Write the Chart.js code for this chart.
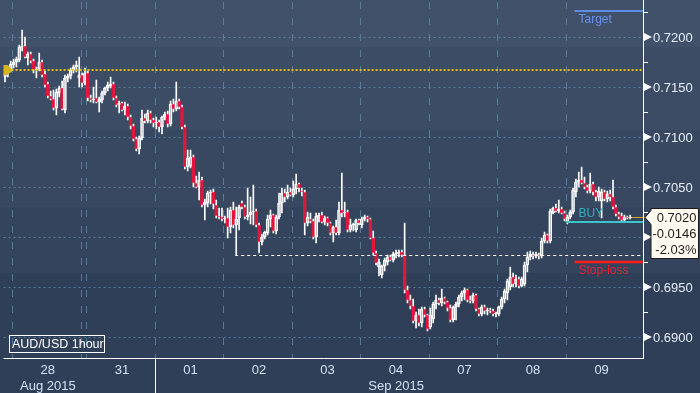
<!DOCTYPE html>
<html>
<head>
<meta charset="utf-8">
<script src="https://cdn.jsdelivr.net/npm/chart.js@4.4.0/dist/chart.umd.min.js"></script>
<style>
  html, body { margin: 0; padding: 0; background: #2e3c55; }
  #wrap { width: 700px; height: 393px; }
</style>
</head>
<body>
<div id="wrap"><canvas id="fxChart" width="700" height="393"></canvas></div>
<script>
// hourly candles, each [open, high, low, close]
const aug27 = [
  [0.7160,0.7168,0.7155,0.7164],[0.7164,0.7170,0.7160,0.7167],[0.7167,0.7176,0.7165,0.7173]
];
const aug28 = [
  [0.7172,0.7178,0.7169,0.7175],[0.7175,0.7180,0.7170,0.7178],[0.7177,0.7192,0.7175,0.7190],
  [0.7190,0.7207,0.7186,0.7191],[0.7191,0.7200,0.7179,0.7180],[0.7179,0.7185,0.7172,0.7183],
  [0.7183,0.7185,0.7174,0.7176],[0.7176,0.7178,0.7164,0.7167],[0.7167,0.7170,0.7159,0.7168],
  [0.7168,0.7184,0.7166,0.7175],[0.7175,0.7177,0.7160,0.7162],[0.7163,0.7166,0.7150,0.7152],
  [0.7153,0.7155,0.7139,0.7141],[0.7141,0.7146,0.7137,0.7138],[0.7138,0.7147,0.7127,0.7129],
  [0.7129,0.7148,0.7122,0.7145],[0.7144,0.7151,0.7140,0.7149],[0.7149,0.7156,0.7127,0.7128],
  [0.7127,0.7162,0.7124,0.7159],[0.7159,0.7163,0.7155,0.7161],[0.7161,0.7169,0.7158,0.7167],
  [0.7167,0.7172,0.7164,0.7170],[0.7170,0.7176,0.7165,0.7172],[0.7159,0.7180,0.7150,0.7162]
];
const aug30 = [
  [0.7162,0.7164,0.7150,0.7154],[0.7154,0.7169,0.7152,0.7164]
];
const aug31 = [
  [0.7164,0.7166,0.7136,0.7139],[0.7139,0.7142,0.7135,0.7137],[0.7137,0.7150,0.7134,0.7138],
  [0.7139,0.7157,0.7134,0.7135],[0.7135,0.7140,0.7125,0.7138],[0.7137,0.7146,0.7134,0.7144],
  [0.7144,0.7150,0.7142,0.7149],[0.7149,0.7155,0.7146,0.7152],[0.7151,0.7160,0.7149,0.7153],
  [0.7153,0.7155,0.7137,0.7139],[0.7139,0.7141,0.7130,0.7132],[0.7132,0.7136,0.7124,0.7134],
  [0.7134,0.7135,0.7126,0.7127],[0.7127,0.7135,0.7122,0.7131],[0.7131,0.7133,0.7117,0.7120],
  [0.7120,0.7122,0.7108,0.7111],[0.7111,0.7113,0.7096,0.7098],[0.7098,0.7100,0.7086,0.7088],
  [0.7088,0.7101,0.7083,0.7099],[0.7099,0.7127,0.7097,0.7119],[0.7119,0.7123,0.7114,0.7116],
  [0.7116,0.7127,0.7114,0.7124],[0.7124,0.7126,0.7114,0.7117],[0.7117,0.7119,0.7110,0.7114]
];
const sep01 = [
  [0.7114,0.7120,0.7108,0.7115],[0.7115,0.7117,0.7105,0.7110],[0.7110,0.7121,0.7103,0.7120],
  [0.7120,0.7125,0.7117,0.7123],[0.7123,0.7126,0.7110,0.7113],[0.7113,0.7136,0.7111,0.7133],
  [0.7133,0.7138,0.7125,0.7128],[0.7128,0.7155,0.7126,0.7136],[0.7136,0.7138,0.7128,0.7130],
  [0.7130,0.7132,0.7108,0.7110],[0.7110,0.7112,0.7068,0.7070],[0.7070,0.7087,0.7066,0.7079],
  [0.7071,0.7087,0.7069,0.7080],[0.7080,0.7082,0.7050,0.7054],[0.7054,0.7061,0.7049,0.7050],
  [0.7050,0.7065,0.7037,0.7057],[0.7057,0.7060,0.7030,0.7032],[0.7032,0.7038,0.7017,0.7035],
  [0.7034,0.7046,0.7030,0.7044],[0.7044,0.7047,0.7033,0.7045],[0.7045,0.7048,0.7028,0.7033],
  [0.7032,0.7037,0.7019,0.7021],[0.7021,0.7029,0.7018,0.7020],[0.7020,0.7029,0.7016,0.7018]
];
const sep02 = [
  [0.7018,0.7021,0.7014,0.7019],[0.7019,0.7029,0.6999,0.7010],[0.7010,0.7030,0.7004,0.7027],
  [0.7027,0.7035,0.7009,0.7012],[0.7012,0.7030,0.6982,0.7018],[0.7019,0.7032,0.7007,0.7030],
  [0.7034,0.7036,0.7028,0.7030],[0.7030,0.7032,0.7018,0.7020],[0.7020,0.7049,0.7017,0.7022],
  [0.7022,0.7040,0.7013,0.7025],[0.7025,0.7052,0.7012,0.7026],[0.7026,0.7028,0.7010,0.7012],
  [0.7012,0.7014,0.6984,0.6995],[0.6995,0.7003,0.6992,0.7000],[0.7000,0.7006,0.6998,0.7005],
  [0.7004,0.7022,0.7002,0.7018],[0.7018,0.7027,0.7010,0.7022],[0.7022,0.7023,0.7004,0.7006],
  [0.7006,0.7022,0.7003,0.7020],[0.7020,0.7044,0.7018,0.7034],[0.7034,0.7049,0.7024,0.7044],
  [0.7044,0.7048,0.7035,0.7040],[0.7040,0.7052,0.7038,0.7045],[0.7045,0.7049,0.7041,0.7042]
];
const sep03 = [
  [0.7042,0.7056,0.7040,0.7048],[0.7048,0.7063,0.7043,0.7053],[0.7053,0.7054,0.7045,0.7049],
  [0.7046,0.7049,0.7041,0.7045],[0.7045,0.7047,0.7002,0.7014],[0.7014,0.7025,0.7011,0.7020],
  [0.7018,0.7024,0.7014,0.7016],[0.7016,0.7018,0.6998,0.7000],[0.7000,0.7024,0.6994,0.7021],
  [0.7021,0.7024,0.7015,0.7022],[0.7022,0.7025,0.7014,0.7015],[0.7015,0.7021,0.7012,0.7019],
  [0.7019,0.7020,0.7011,0.7014],[0.7014,0.7015,0.7002,0.7004],[0.7004,0.7011,0.6995,0.7010],
  [0.7010,0.7017,0.7002,0.7004],[0.7004,0.7035,0.7002,0.7027],[0.7027,0.7064,0.7020,0.7024],
  [0.7024,0.7035,0.7020,0.7025],[0.7025,0.7027,0.7005,0.7007],[0.7007,0.7018,0.7005,0.7012],
  [0.7012,0.7014,0.7006,0.7012],[0.7007,0.7018,0.7005,0.7017],[0.7017,0.7018,0.7012,0.7014]
];
const sep04 = [
  [0.7012,0.7020,0.7009,0.7018],[0.7018,0.7022,0.7016,0.7020],[0.7020,0.7021,0.7015,0.7018],
  [0.7018,0.7019,0.6998,0.6999],[0.6999,0.7006,0.6982,0.6984],[0.6984,0.6986,0.6972,0.6974],
  [0.6970,0.6978,0.6961,0.6975],[0.6962,0.6972,0.6959,0.6971],[0.6971,0.6979,0.6966,0.6977],
  [0.6975,0.6982,0.6972,0.6980],[0.6980,0.6982,0.6976,0.6977],[0.6977,0.6985,0.6975,0.6983],
  [0.6983,0.6987,0.6979,0.6984],[0.6984,0.6987,0.6980,0.6985],[0.6985,0.6987,0.6980,0.6982],
  [0.6982,0.7014,0.6944,0.6947],[0.6947,0.6951,0.6934,0.6937],[0.6937,0.6942,0.6928,0.6931],
  [0.6931,0.6938,0.6914,0.6916],[0.6916,0.6925,0.6909,0.6922],[0.6922,0.6928,0.6911,0.6914],
  [0.6914,0.6930,0.6910,0.6928],[0.6928,0.6930,0.6920,0.6922],[0.6922,0.6923,0.6906,0.6908]
];
const sep07 = [
  [0.6910,0.6929,0.6908,0.6922],[0.6918,0.6935,0.6914,0.6933],[0.6933,0.6942,0.6928,0.6937],
  [0.6937,0.6939,0.6932,0.6934],[0.6934,0.6948,0.6931,0.6939],[0.6939,0.6940,0.6933,0.6935],
  [0.6935,0.6936,0.6926,0.6929],[0.6929,0.6932,0.6915,0.6917],[0.6917,0.6931,0.6915,0.6930],
  [0.6930,0.6935,0.6917,0.6933],[0.6933,0.6942,0.6930,0.6940],[0.6940,0.6946,0.6936,0.6944],
  [0.6944,0.6949,0.6937,0.6947],[0.6947,0.6948,0.6935,0.6937],[0.6937,0.6941,0.6934,0.6936],
  [0.6936,0.6944,0.6934,0.6942],[0.6942,0.6943,0.6926,0.6928],[0.6928,0.6929,0.6921,0.6923],
  [0.6923,0.6932,0.6921,0.6930],[0.6930,0.6932,0.6923,0.6926],[0.6926,0.6929,0.6922,0.6927],
  [0.6927,0.6929,0.6924,0.6926],[0.6926,0.6928,0.6921,0.6923],[0.6923,0.6925,0.6920,0.6924]
];
const sep08 = [
  [0.6923,0.6931,0.6921,0.6930],[0.6930,0.6940,0.6928,0.6938],[0.6938,0.6948,0.6934,0.6946],
  [0.6944,0.6958,0.6937,0.6956],[0.6950,0.6970,0.6947,0.6960],[0.6960,0.6964,0.6950,0.6953],
  [0.6953,0.6962,0.6950,0.6958],[0.6958,0.6960,0.6949,0.6951],[0.6951,0.6960,0.6950,0.6958],
  [0.6953,0.6975,0.6951,0.6972],[0.6972,0.6985,0.6965,0.6980],[0.6980,0.6986,0.6977,0.6983],
  [0.6982,0.6985,0.6978,0.6981],[0.6981,0.6985,0.6979,0.6983],[0.6982,0.6984,0.6978,0.6981],
  [0.6981,0.6999,0.6979,0.6996],[0.6996,0.7005,0.6994,0.7002],[0.7002,0.7003,0.6994,0.6996],
  [0.6996,0.7028,0.6994,0.7026],[0.7024,0.7030,0.7023,0.7029],[0.7029,0.7033,0.7025,0.7026],
  [0.7026,0.7037,0.7024,0.7028],[0.7028,0.7030,0.7023,0.7024],[0.7024,0.7026,0.7016,0.7018]
];
const sep09 = [
  [0.7015,0.7022,0.7013,0.7020],[0.7020,0.7027,0.7018,0.7025],[0.7025,0.7049,0.7023,0.7047],
  [0.7045,0.7058,0.7040,0.7055],[0.7055,0.7065,0.7050,0.7057],[0.7057,0.7070,0.7053,0.7054],
  [0.7054,0.7060,0.7048,0.7050],[0.7050,0.7052,0.7044,0.7046],[0.7046,0.7064,0.7044,0.7053],
  [0.7053,0.7055,0.7042,0.7045],[0.7045,0.7047,0.7036,0.7040],[0.7040,0.7050,0.7036,0.7046],
  [0.7036,0.7048,0.7019,0.7045],[0.7045,0.7047,0.7036,0.7038],[0.7038,0.7046,0.7035,0.7043],
  [0.7043,0.7047,0.7036,0.7040],[0.7040,0.7057,0.7028,0.7030],[0.7030,0.7032,0.7021,0.7023],
  [0.7023,0.7025,0.7018,0.7020],[0.7021,0.7024,0.7016,0.7017],[0.7017,0.7022,0.7015,0.7020],
  [0.7020,0.7021,0.7018,0.7019],[0.7019,0.7022,0.7018,0.7020]
];

const sessionDays = ["27", "28", "30", "31", "01", "02", "03", "04", "07", "08", "09"];
const sessionBars = [aug27, aug28, aug30, aug31, sep01, sep02, sep03, sep04, sep07, sep08, sep09];
const emptySlots = 4;

const tickDays = ["28", "31", "01", "02", "03", "04", "07", "08", "09"];
const monthTickDays = ["28", "04"];
const monthTickText = ["Aug 2015", "Sep 2015"];
const monthStartDay = "01";

const yMin = 0.6879;
const yMax = 0.7237;
const yMajorTicks = [0.6900, 0.6950, 0.7000, 0.7050, 0.7100, 0.7150, 0.7200];
const yMinorTicks = [0.6925, 0.6975, 0.7025, 0.7075, 0.7125, 0.7175, 0.7225];

const refLevel = 0.7167;
const supportLevel = 0.6982;
const supportFrom = 81;
const levelNames = ["Target", "BUY", "Stop-loss"];
const levelValues = [0.7226, 0.7015, 0.6975];
const levelFrom = [200, 197, 200];
const levelColors = ["#5d8be6", "#3cc4c8", "#ff1a1a"];
const levelTextColors = ["#6790ea", "#2fb3ba", "#ef1d2f"];
const lastPrice = 0.7020;
const priceBoxLines = ["0.7020", "-0.0146", "-2.03%"];
const tickerText = "AUD/USD 1hour";

// flatten sessions into categories
const labels = [];
const candles = [];
const dayBounds = [];
const tickText = {};
let monthSplit = 0;
sessionBars.forEach((bars, s) => {
  const start = candles.length;
  if (s > 0) dayBounds.push(start);
  if (sessionDays[s] === monthStartDay) monthSplit = start;
  bars.forEach((b, h) => {
    labels.push(sessionDays[s] + " " + h);
    candles.push(b);
  });
  if (tickDays.includes(sessionDays[s])) {
    const m = monthTickDays.indexOf(sessionDays[s]);
    tickText[start + 12] = m >= 0 ? [sessionDays[s], monthTickText[m]] : sessionDays[s];
  }
});
for (let k = 0; k < emptySlots; k++) {
  labels.push("");
  candles.push(null);
}

const upColor = "#ffffff";
const downColor = "#e0173d";
const bodyData = candles.map((c) => (c ? [Math.min(c[0], c[3]), Math.max(c[0], c[3])] : null));
const upperWick = candles.map((c) => (c ? [Math.max(c[0], c[3]), c[1]] : null));
const lowerWick = candles.map((c) => (c ? [c[2], Math.min(c[0], c[3])] : null));
const isUp = candles.map((c) => c && c[3] >= c[0]);

const LABEL_FONT = "13px 'Liberation Sans', Arial, sans-serif";

const overlay = {
  id: "overlay",
  beforeDraw(chart) {
    const ctx = chart.ctx;
    const h = chart.height;
    const g = ctx.createLinearGradient(0, 0, 0, h);
    const bands = [[0, "#405169"], [47, "#3c4c65"], [130, "#384861"], [207, "#34445d"], [273, "#303f58"], [393, "#2c3a53"]];
    bands.forEach(([y, c], i) => {
      if (i > 0) g.addColorStop(Math.min(1, y / h), bands[i - 1][1]);
      g.addColorStop(Math.min(1, y / h), c);
    });
    ctx.save();
    ctx.fillStyle = g;
    ctx.fillRect(0, 0, chart.width, h);
    ctx.restore();
  },
  beforeDatasetsDraw(chart) {
    const { ctx, chartArea: a, scales: { x, y } } = chart;
    const bound = (i) => (x.getPixelForValue(i - 1) + x.getPixelForValue(i)) / 2;
    ctx.save();
    ctx.strokeStyle = "rgba(96,140,172,0.75)";
    ctx.lineWidth = 1;
    ctx.setLineDash([2, 3]);
    yMajorTicks.forEach((v) => {
      const py = Math.round(y.getPixelForValue(v)) + 0.5;
      ctx.beginPath();
      ctx.moveTo(a.left, py);
      ctx.lineTo(a.right, py);
      ctx.stroke();
    });
    ctx.setLineDash([7, 9]);
    dayBounds.forEach((i) => {
      const px = Math.round(bound(i)) + 0.5;
      ctx.beginPath();
      ctx.moveTo(px, a.top + 2);
      ctx.lineTo(px, a.bottom);
      ctx.stroke();
    });
    ctx.restore();
  },
  afterDatasetsDraw(chart) {
    const { ctx, chartArea: a, scales: { x, y } } = chart;
    const bound = (i) => (x.getPixelForValue(i - 1) + x.getPixelForValue(i)) / 2;
    ctx.save();

    // support dashed line
    ctx.strokeStyle = "#ffffff";
    ctx.lineWidth = 1;
    ctx.setLineDash([3, 3]);
    let py = Math.round(y.getPixelForValue(supportLevel)) + 0.5;
    ctx.beginPath();
    ctx.moveTo(x.getPixelForValue(supportFrom) - 1, py);
    ctx.lineTo(a.right, py);
    ctx.stroke();

    // yellow reference line
    ctx.strokeStyle = "#e3c21c";
    ctx.lineWidth = 2;
    ctx.setLineDash([2, 2]);
    py = Math.round(y.getPixelForValue(refLevel));
    ctx.beginPath();
    ctx.moveTo(a.left, py);
    ctx.lineTo(a.right, py);
    ctx.stroke();
    ctx.setLineDash([]);
    ctx.fillStyle = "#d8b41a";
    ctx.beginPath();
    ctx.moveTo(a.left, py - 5);
    ctx.lineTo(a.left + 4, py - 5);
    ctx.lineTo(a.left + 9, py);
    ctx.lineTo(a.left + 4, py + 5);
    ctx.lineTo(a.left, py + 5);
    ctx.closePath();
    ctx.fill();

    // trade levels
    ctx.font = "12px 'Liberation Sans', Arial, sans-serif";
    ctx.textBaseline = "middle";
    ctx.textAlign = "left";
    const textX = bound(levelFrom[0]) + 4;
    levelNames.forEach((name, k) => {
      const ly = y.getPixelForValue(levelValues[k]);
      ctx.strokeStyle = levelColors[k];
      ctx.lineWidth = k === 2 ? 2.5 : 2;
      ctx.beginPath();
      ctx.moveTo(bound(levelFrom[k]), ly);
      ctx.lineTo(a.right, ly);
      ctx.stroke();
      ctx.fillStyle = levelTextColors[k];
      const ty = name === "BUY" ? ly - 8 : ly + 9;
      ctx.fillText(name, textX, ty);
    });

    // last price connector
    const lp = Math.round(y.getPixelForValue(lastPrice)) + 0.5;
    ctx.strokeStyle = "#d9a520";
    ctx.lineWidth = 1;
    ctx.beginPath();
    ctx.moveTo(x.getPixelForValue(candles.length - emptySlots - 1) + 2, lp);
    ctx.lineTo(a.right + 2, lp);
    ctx.stroke();

    // axis lines
    ctx.strokeStyle = "#ffffff";
    ctx.lineWidth = 1;
    ctx.beginPath();
    ctx.moveTo(Math.round(a.right) + 0.5, a.top);
    ctx.lineTo(Math.round(a.right) + 0.5, Math.round(a.bottom) + 1);
    ctx.moveTo(a.left, Math.round(a.bottom) + 0.5);
    ctx.lineTo(a.right, Math.round(a.bottom) + 0.5);
    const mx = Math.round(bound(monthSplit)) + 0.5;
    ctx.moveTo(mx, a.bottom);
    ctx.lineTo(mx, chart.height);
    ctx.stroke();

    // y axis markers and labels
    const ax = Math.round(a.right) + 1;
    ctx.fillStyle = "#ffffff";
    yMinorTicks.forEach((v) => {
      const ty = Math.round(y.getPixelForValue(v)) + 0.5;
      ctx.beginPath();
      ctx.moveTo(ax, ty);
      ctx.lineTo(ax + 4, ty);
      ctx.stroke();
    });
    ctx.font = LABEL_FONT;
    yMajorTicks.forEach((v) => {
      const ty = y.getPixelForValue(v);
      ctx.fillStyle = "#ffffff";
      ctx.beginPath();
      ctx.moveTo(ax, ty - 4);
      ctx.lineTo(ax + 8, ty);
      ctx.lineTo(ax, ty + 4);
      ctx.closePath();
      ctx.fill();
      ctx.fillStyle = "#e6eef7";
      ctx.fillText(v.toFixed(4), ax + 9, ty + 1);
    });

    // last price box
    const bl = ax + 7, br = chart.width - 1.5, bt = lp - 9, bb = lp + 41;
    ctx.fillStyle = "#fff9ef";
    ctx.strokeStyle = "#1c1c1c";
    ctx.beginPath();
    ctx.moveTo(ax + 1, lp);
    ctx.lineTo(bl, lp - 7);
    ctx.lineTo(bl, bt);
    ctx.lineTo(br, bt);
    ctx.lineTo(br, bb);
    ctx.lineTo(bl, bb);
    ctx.lineTo(bl, lp + 7);
    ctx.closePath();
    ctx.fill();
    ctx.stroke();
    ctx.fillStyle = "#1e1e1e";
    ctx.textAlign = "right";
    priceBoxLines.forEach((t, k) => ctx.fillText(t, br - 2, lp + 1 + k * 16));

    // ticker box
    ctx.textAlign = "left";
    ctx.strokeStyle = "#ffffff";
    ctx.strokeRect(9.5, 335.5, 95, 17);
    ctx.fillStyle = "#ffffff";
    ctx.font = "12.5px 'Liberation Sans', Arial, sans-serif";
    ctx.fillText(tickerText, 12, 344.5);

    ctx.restore();
  },
};

new Chart(document.getElementById("fxChart"), {
  type: "bar",
  data: {
    labels: labels,
    datasets: [
      {
        data: upperWick,
        backgroundColor: "#ffffff",
        barThickness: 1,
        grouped: false,
        borderWidth: 0,
      },
      {
        data: lowerWick,
        backgroundColor: "#ffffff",
        barThickness: 1,
        grouped: false,
        borderWidth: 0,
      },
      {
        data: bodyData,
        backgroundColor: isUp.map((u) => (u ? "rgba(0,0,0,0)" : downColor)),
        borderColor: isUp.map((u) => (u ? upColor : downColor)),
        borderWidth: 1,
        borderSkipped: false,
        barThickness: 3,
        minBarLength: 1,
        grouped: false,
      },
    ],
  },
  options: {
    responsive: false,
    animation: false,
    events: [],
    layout: { padding: 0 },
    plugins: {
      legend: { display: false },
      tooltip: { enabled: false },
    },
    scales: {
      x: {
        type: "category",
        offset: true,
        grid: { display: false, drawTicks: false },
        border: { display: false },
        ticks: {
          autoSkip: false,
          maxRotation: 0,
          minRotation: 0,
          padding: 5,
          color: "#d2e1f2",
          font: { family: "'Liberation Sans', Arial, sans-serif", size: 13 },
          callback: (value, index) => tickText[index] || "",
        },
        afterFit: (scale) => {
          scale.height = 35;
        },
      },
      y: {
        position: "right",
        min: yMin,
        max: yMax,
        grid: { display: false, drawTicks: false },
        border: { display: false },
        ticks: { display: false },
        afterFit: (scale) => {
          scale.width = 57;
        },
      },
    },
  },
  plugins: [overlay],
});
</script>
</body>
</html>
